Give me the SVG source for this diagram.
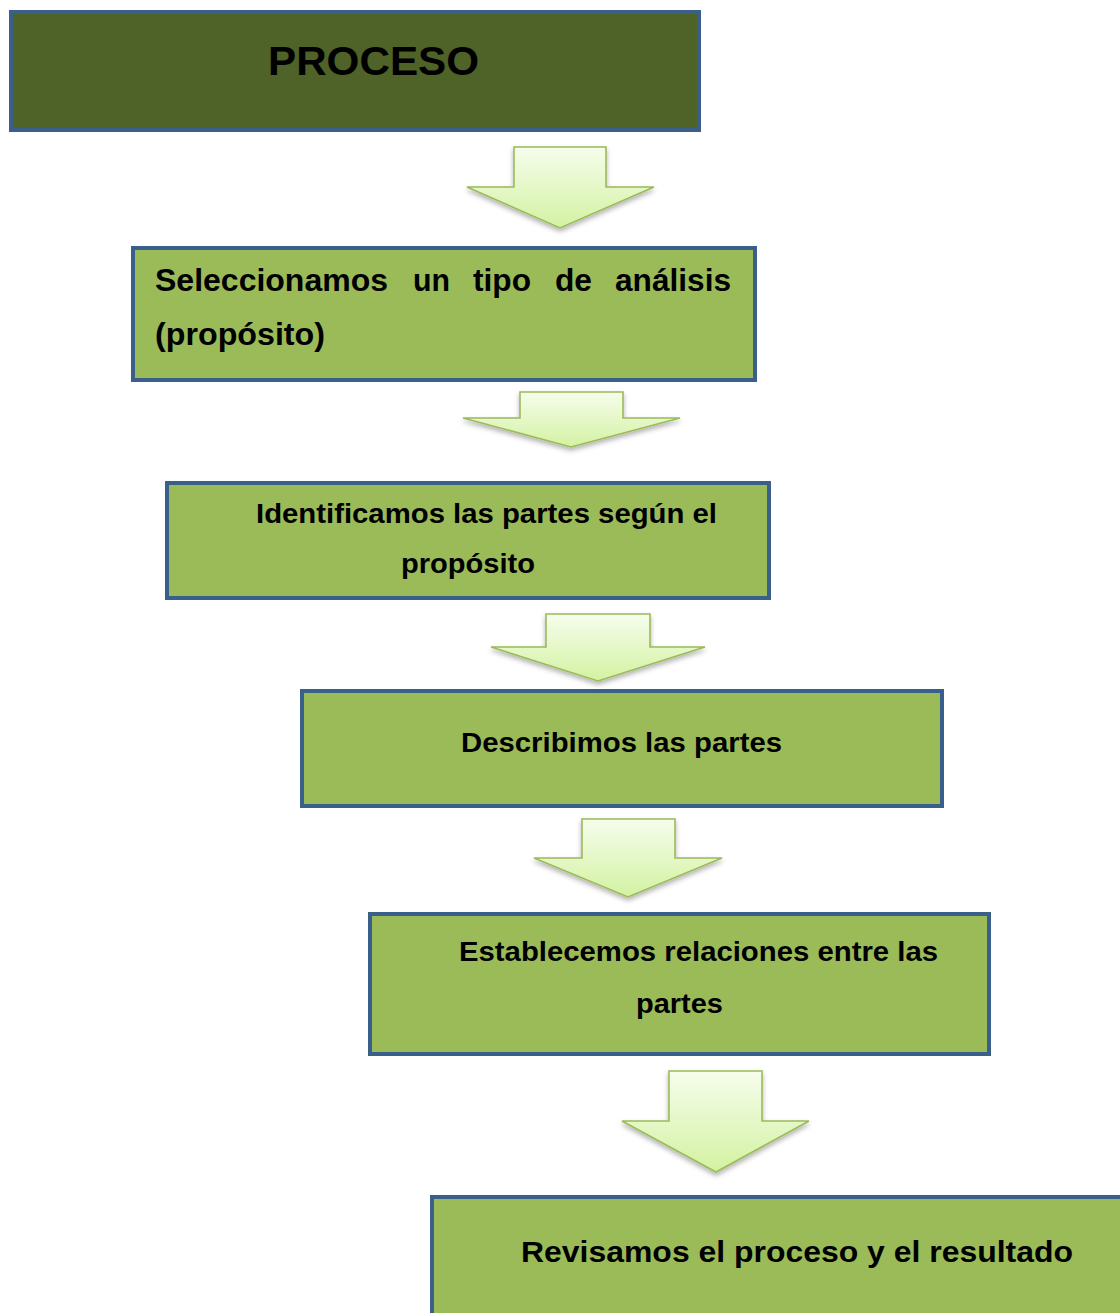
<svg xmlns="http://www.w3.org/2000/svg" width="1120" height="1313" viewBox="0 0 1120 1313">
<style>
.box{fill:#9BBB59;stroke:#3A5F8B;stroke-width:4}
.top{fill:#4F6228;stroke:#3A5F8B;stroke-width:4}
.t{font-family:"Liberation Sans",Arial,sans-serif;font-weight:bold;fill:#000}
.arr{fill:url(#ag);stroke:#9BBB59;stroke-width:1.6;stroke-linejoin:miter;filter:url(#sh)}
</style>
<defs>
<linearGradient id="ag" x1="0" y1="0" x2="0" y2="1">
<stop offset="0" stop-color="#F6FDEC"/>
<stop offset="1" stop-color="#D3F2A2"/>
</linearGradient>
<filter id="sh" x="-20%" y="-20%" width="140%" height="160%">
<feDropShadow dx="0" dy="3" stdDeviation="2.5" flood-color="#000" flood-opacity="0.3"/>
</filter>
</defs>
<g id="connectors">
<path class="arr" d="M514,147 H606 V187 H654 L560,228 L467,187 H514 Z"/>
<path class="arr" d="M520,392 H623 V418 H680 L571,447 L463,418 H520 Z"/>
<path class="arr" d="M546,614 H650 V647 H705 L598,681 L491,647 H546 Z"/>
<path class="arr" d="M582,819 H675 V858 H722 L628,897 L534,858 H582 Z"/>
<path class="arr" d="M669,1071 H762 V1121 H809 L716,1172 L622,1121 H669 Z"/>
</g>
<g id="n0">
<rect class="top" x="11" y="12" width="688" height="118"/>
<text class="t" x="268" y="75" font-size="41" textLength="211" lengthAdjust="spacingAndGlyphs">PROCESO</text>
</g>
<g id="n1">
<rect class="box" x="133" y="248" width="622" height="132"/>
<g class="t" font-size="32">
<text x="155" y="291" textLength="233" lengthAdjust="spacingAndGlyphs">Seleccionamos</text>
<text x="413" y="291" textLength="37" lengthAdjust="spacingAndGlyphs">un</text>
<text x="473" y="291" textLength="58" lengthAdjust="spacingAndGlyphs">tipo</text>
<text x="555" y="291" textLength="37" lengthAdjust="spacingAndGlyphs">de</text>
<text x="615" y="291" textLength="116" lengthAdjust="spacingAndGlyphs">análisis</text>
<text x="155" y="345" textLength="170" lengthAdjust="spacingAndGlyphs">(propósito)</text>
</g>
</g>
<g id="n2">
<rect class="box" x="167" y="483" width="602" height="115"/>
<text class="t" x="256" y="523" font-size="28" textLength="461" lengthAdjust="spacingAndGlyphs">Identificamos las partes según el</text>
<text class="t" x="401" y="573" font-size="28" textLength="134" lengthAdjust="spacingAndGlyphs">propósito</text>
</g>
<g id="n3">
<rect class="box" x="302" y="691" width="640" height="115"/>
<text class="t" x="461" y="752" font-size="28" textLength="321" lengthAdjust="spacingAndGlyphs">Describimos las partes</text>
</g>
<g id="n4">
<rect class="box" x="370" y="914" width="619" height="140"/>
<text class="t" x="459" y="961" font-size="28" textLength="479" lengthAdjust="spacingAndGlyphs">Establecemos relaciones entre las</text>
<text class="t" x="636" y="1013" font-size="28" textLength="87" lengthAdjust="spacingAndGlyphs">partes</text>
</g>
<g id="n5">
<rect class="box" x="432" y="1197" width="700" height="130"/>
<text class="t" x="521" y="1262" font-size="30" textLength="552" lengthAdjust="spacingAndGlyphs">Revisamos el proceso y el resultado</text>
</g>
</svg>
